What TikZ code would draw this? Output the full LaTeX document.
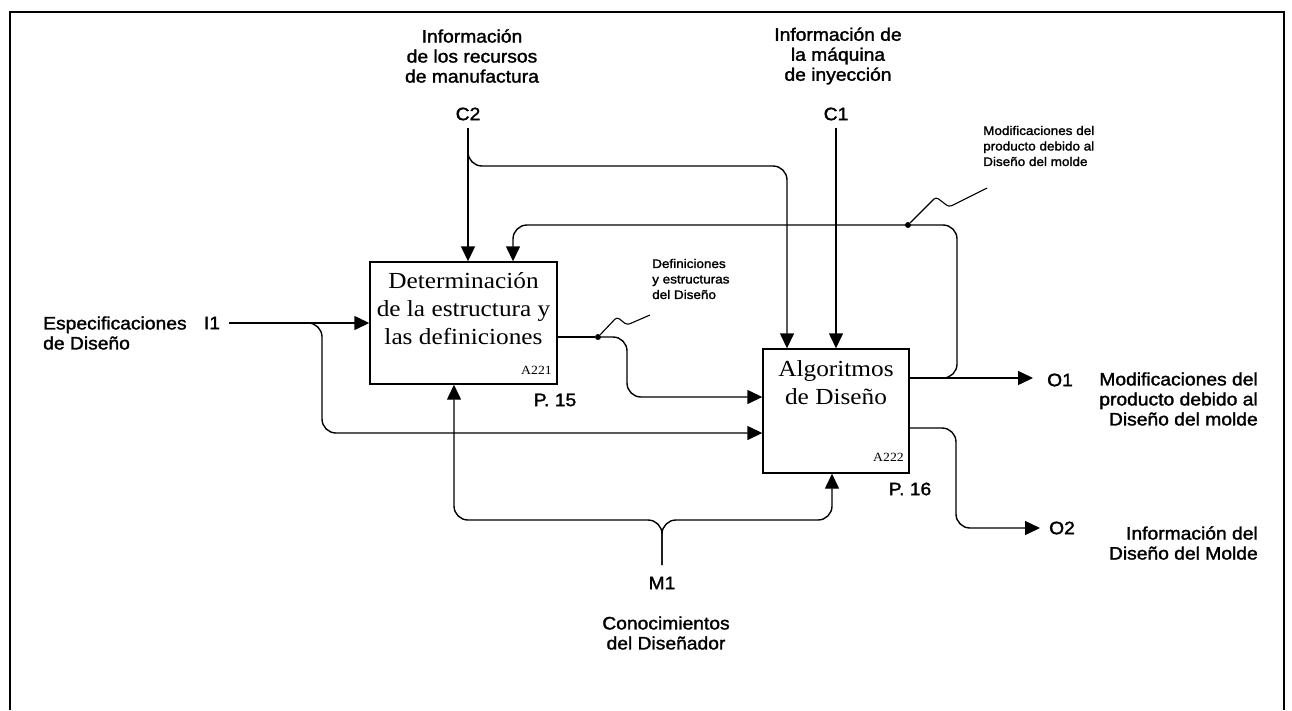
\documentclass[tikz,border=0pt]{standalone}
\usepackage{fontspec}
\setmainfont{Liberation Serif}
\setsansfont{Liberation Sans}
\newfontfamily\labsans{Liberation Sans}[FakeBold=1.6]
\usetikzlibrary{arrows.meta}
\begin{document}
\begin{tikzpicture}[x=1pt,y=-1pt,
  wire/.style={line width=1.4pt},
  arr/.style={wire,-{Triangle[length=15pt,width=14pt]}},
  lab/.style={font=\labsans\fontsize{18}{20}\selectfont, xscale=1.07, inner sep=0pt, align=center},
  small/.style={font=\labsans\fontsize{12.5}{15.5}\selectfont, xscale=1.08, inner sep=0pt, align=left},
  actbox/.style={draw, line width=1.4pt, inner sep=0pt},
  acttext/.style={font=\rmfamily\fontsize{23}{28}\selectfont, xscale=1.1, align=center, inner sep=0pt},
  actid/.style={font=\rmfamily\fontsize{12.5}{13}\selectfont, xscale=1.1, inner sep=0pt, anchor=base east},
  dotmark/.style={circle, fill, inner sep=0pt, minimum size=6pt}
]
\useasboundingbox (0,0) rectangle (1292,710);

% frame
\draw[line width=2.4pt] (10,710) -- (10,12) -- (1284,12) -- (1284,710);

% activity boxes
\node[actbox, minimum width=187pt, minimum height=122pt] (a221) at (463.5,323) {};
\node[actbox, minimum width=146pt, minimum height=124pt] (a222) at (836,411) {};
\node[acttext] (t221) at (463.5,309) {Determinación\\de la estructura y\\las definiciones};
\node[acttext] (t222) at (836,383) {Algoritmos\\de Diseño};
\node[actid] (id221) at (552,374) {A221};
\node[actid] (id222) at (904,461) {A222};
\node[lab] (p15) at (555,400) {P. 15};
\node[lab] (p16) at (910,489) {P. 16};

% controls
\node[lab] (c2t) at (472,56) {Información\\de los recursos\\de manufactura};
\node[lab] (c1t) at (838,56) {Información de\\la máquina\\de inyección};
\node[lab] (c2) at (468,114) {C2};
\node[lab] (c1) at (836,114) {C1};

% input
\node[lab, anchor=west, align=left] (i1t) at (43,333) {Especificaciones\\de Diseño};
\node[lab] (i1) at (212,323) {I1};

% outputs
\node[lab] (o1) at (1060,380) {O1};
\node[lab, anchor=east, align=right] (o1t) at (1258,399) {Modificaciones del\\producto debido al\\Diseño del molde};
\node[lab] (o2) at (1062,528) {O2};
\node[lab, anchor=east, align=right] (o2t) at (1258,543) {Información del\\Diseño del Molde};

% mechanism
\node[lab] (m1) at (662,583) {M1};
\node[lab] (m1t) at (666,633) {Conocimientos\\del Diseñador};

% arrow labels
\node[small, anchor=west] (fbt) at (983,146) {Modificaciones del\\producto debido al\\Diseño del molde};
\node[small, anchor=west] (dst) at (652,279) {Definiciones\\y estructuras\\del Diseño};

% I1 to both activities
\draw[arr] (i1.east) ++(9,0) -- (a221.west);
\draw[arr, rounded corners=14] (300,323) -- (322,323) -- (322,433) -- (a222.west |- 0,433);

% C2 to both activities
\draw[arr] (c2.south) ++(0,7) -- (a221.north -| c2);
\draw[arr, rounded corners=14] (468,150) -- (468,166) -- (787,166) -- (a222.north -| 787,0);

% C1
\draw[arr] (c1.south) ++(0,7) -- (a222.north -| c1);

% A221 output to A222
\node[dotmark] (d1) at (598,337) {};
\draw[wire] (a221.east |- d1) -- (d1);
\draw[arr, rounded corners=14] (d1) -- (627,337) -- (627,397) -- (a222.west |- 0,397);
\draw[line width=1.1pt, rounded corners=3] (d1) -- (617,317) -- (627,325) -- (650,315);

% A222 output O1 and feedback
\draw[arr] (a222.east |- 0,378) -- (1033,378);
\node[dotmark] (d2) at (908,225) {};
\draw[arr, rounded corners=14] (925,378) -- (957,378) -- (957,225) -- (513,225) -- (a221.north -| 513,0);
\draw[line width=1.1pt, rounded corners=3] (d2) -- (936,197) -- (949,207) -- (987,188);

% A222 output O2
\draw[arr, rounded corners=14] (a222.east |- 0,428) -- (956,428) -- (956,528) -- (1040,528);

% mechanism bracket
\draw[arr, rounded corners=14] (662,565) -- (662,520) -- (454,520) -- (a221.south -| 454,0);
\draw[arr, rounded corners=14] (662,565) -- (662,520) -- (832,520) -- (a222.south -| 832,0);
\end{tikzpicture}
\end{document}
